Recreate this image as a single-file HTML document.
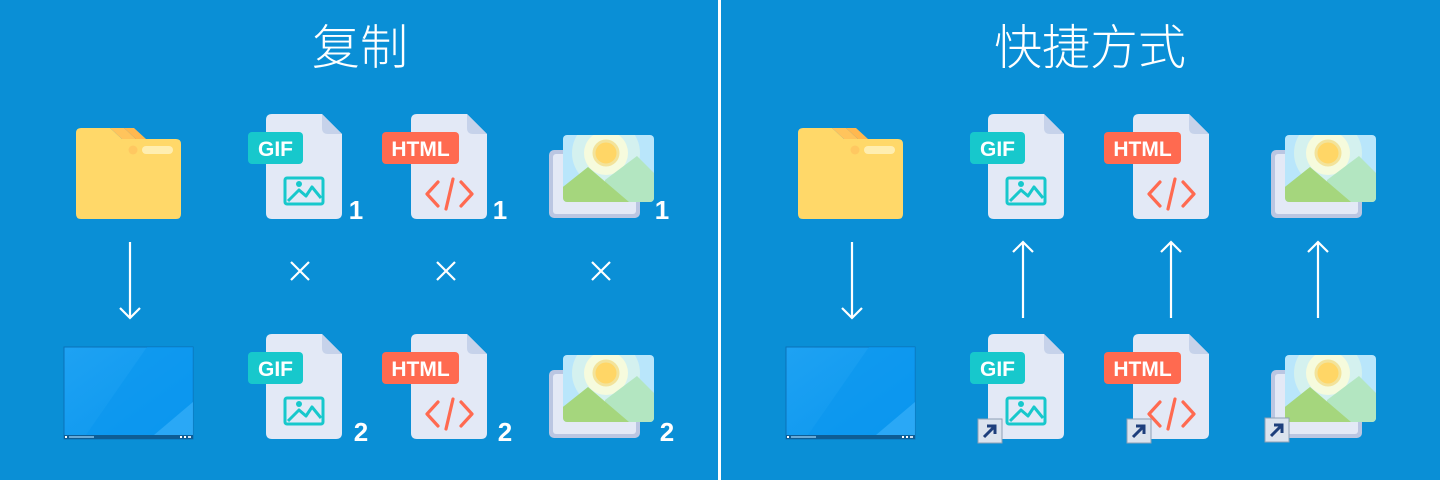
<!DOCTYPE html>
<html><head><meta charset="utf-8"><style>
html,body{margin:0;padding:0;background:#0a8fd6;}
svg{display:block}
.t{font-family:"Liberation Sans","Noto Sans CJK SC",sans-serif;fill:#fff}
.b{font-family:"Liberation Sans",sans-serif;font-weight:bold;fill:#fff}
</style></head><body>
<svg width="1440" height="480" viewBox="0 0 1440 480" xmlns="http://www.w3.org/2000/svg">
<defs>
<linearGradient id="dk" x1="0" y1="0" x2="1" y2="1"><stop offset="0" stop-color="#1ea2f3"/><stop offset="1" stop-color="#0a96ee"/></linearGradient>
<g id="doc"><path d="M0 6q0-6 6-6H56L76 20V99q0 6-6 6H6q-6 0-6-6Z" fill="#e3e9f6"/><path d="M56 0V14q0 6 6 6H76Z" fill="#c6d2ea"/></g>
<g id="img"><rect x="19" y="64" width="38" height="26" rx="2" fill="none" stroke="#17c8cc" stroke-width="3"/><path d="M22 87L33 76L40 82L46 73L55 84" fill="none" stroke="#17c8cc" stroke-width="3" stroke-linejoin="round"/><circle cx="33" cy="70" r="3" fill="#17c8cc"/></g>
<g id="code" fill="none" stroke="#ff6a50" stroke-width="3.2" stroke-linecap="round" stroke-linejoin="round"><path d="M27 68L16 80L27 92M50 68L61 80L50 92M42 65L35 95"/></g>
<clipPath id="fc"><rect x="14" y="-15" width="91" height="67" rx="4"/></clipPath>
<g id="photo"><rect x="0" y="0" width="91" height="68" rx="5" fill="#bac6e2"/><rect x="4" y="4" width="83" height="60" rx="3" fill="#e3e9f6"/>
<rect x="14" y="-15" width="91" height="67" rx="4" fill="#b9e6fb"/>
<g clip-path="url(#fc)"><circle cx="57" cy="3" r="34" fill="#d4f1ef"/><circle cx="57" cy="3" r="22" fill="#f6fbdd"/><circle cx="57" cy="3" r="12" fill="#ffd666" stroke="#f3e39a" stroke-width="3"/>
<path d="M56 30L88 6L110 28V60H56Z" fill="#b3e6c1"/><path d="M10 60V40L39 17L80 52V60Z" fill="#a5d67d"/></g></g>
<g id="folder"><path d="M0 6q0-5 5-5H34L46 12H100q5 0 5 5V87q0 5-5 5H5q-5 0-5-5Z" fill="#ffd869"/><path d="M34 1H48L60 12H46Z" fill="#ffc45c"/><path d="M48 1H58L70 12H60Z" fill="#ffb84f"/><circle cx="57" cy="23" r="4.5" fill="#ffc861"/><rect x="66" y="19" width="31" height="8" rx="4" fill="#ffeeb0"/></g>
<g id="desk"><rect x="0" y="0" width="129" height="92" fill="url(#dk)" stroke="#0b72b8"/><path d="M22 88L83 0H129V88Z" fill="#0a96ee" opacity="0.6"/><path d="M90 88L129 55V88Z" fill="#3fb4fa" opacity="0.6"/><rect x="0" y="88" width="129" height="4" fill="#0e5d95"/><rect x="1" y="89" width="2" height="2" fill="#fff"/><rect x="5" y="89" width="25" height="2" fill="#6aaad6"/><rect x="116" y="89" width="2" height="2" fill="#fff"/><rect x="120" y="89" width="2" height="2" fill="#fff"/><rect x="124" y="89" width="3" height="2" fill="#cde"/></g>
<g id="sc"><rect x="0" y="0" width="24" height="24" fill="#dbe3ee" stroke="#8fa0b5"/><path d="M6 18L17 7M9 7H17V15" fill="none" stroke="#1e3f7c" stroke-width="3"/></g>
<g id="down" stroke="#fff" stroke-width="2.2" fill="none"><path d="M0 0V76M-10 66L0 76L10 66"/></g>
<g id="up" stroke="#fff" stroke-width="2.2" fill="none"><path d="M0 76V0M-10 10L0 0L10 10"/></g>
<g id="x" stroke="#fff" stroke-width="2.2"><path d="M-9-9L9 9M9-9L-9 9"/></g>
</defs>
<rect x="718" y="0" width="3" height="480" fill="#fff"/>
<text class="t" x="360" y="64" font-size="48" font-weight="300" text-anchor="middle">复制</text>
<text class="t" x="1090" y="64" font-size="48" font-weight="300" text-anchor="middle">快捷方式</text>

<use href="#folder" x="76" y="127"/>
<use href="#down" x="130" y="242"/>
<use href="#desk" x="64" y="347"/>
<g transform="translate(266,114)"><use href="#doc"/><rect x="-18" y="18" width="55" height="32" rx="4" fill="#17c8cc"/><text class="b" x="9.5" y="42" font-size="21" text-anchor="middle">GIF</text><use href="#img"/></g>
<g transform="translate(411,114)"><use href="#doc"/><rect x="-29" y="18" width="77" height="32" rx="4" fill="#ff6a50"/><text class="b" x="9.5" y="42" font-size="21" text-anchor="middle">HTML</text><use href="#code"/></g>
<use href="#photo" x="549" y="150"/>
<text class="b" x="356" y="219" font-size="26" text-anchor="middle">1</text>
<text class="b" x="500" y="219" font-size="26" text-anchor="middle">1</text>
<text class="b" x="662" y="219" font-size="26" text-anchor="middle">1</text>
<use href="#x" x="300" y="271"/><use href="#x" x="446" y="271"/><use href="#x" x="601" y="271"/>
<g transform="translate(266,334)"><use href="#doc"/><rect x="-18" y="18" width="55" height="32" rx="4" fill="#17c8cc"/><text class="b" x="9.5" y="42" font-size="21" text-anchor="middle">GIF</text><use href="#img"/></g>
<g transform="translate(411,334)"><use href="#doc"/><rect x="-29" y="18" width="77" height="32" rx="4" fill="#ff6a50"/><text class="b" x="9.5" y="42" font-size="21" text-anchor="middle">HTML</text><use href="#code"/></g>
<use href="#photo" x="549" y="370"/>
<text class="b" x="361" y="441" font-size="26" text-anchor="middle">2</text>
<text class="b" x="505" y="441" font-size="26" text-anchor="middle">2</text>
<text class="b" x="667" y="441" font-size="26" text-anchor="middle">2</text>

<use href="#folder" x="798" y="127"/>
<use href="#down" x="852" y="242"/>
<use href="#desk" x="786" y="347"/>
<g transform="translate(988,114)"><use href="#doc"/><rect x="-18" y="18" width="55" height="32" rx="4" fill="#17c8cc"/><text class="b" x="9.5" y="42" font-size="21" text-anchor="middle">GIF</text><use href="#img"/></g>
<g transform="translate(1133,114)"><use href="#doc"/><rect x="-29" y="18" width="77" height="32" rx="4" fill="#ff6a50"/><text class="b" x="9.5" y="42" font-size="21" text-anchor="middle">HTML</text><use href="#code"/></g>
<use href="#photo" x="1271" y="150"/>
<use href="#up" x="1023" y="242"/><use href="#up" x="1171" y="242"/><use href="#up" x="1318" y="242"/>
<g transform="translate(988,334)"><use href="#doc"/><rect x="-18" y="18" width="55" height="32" rx="4" fill="#17c8cc"/><text class="b" x="9.5" y="42" font-size="21" text-anchor="middle">GIF</text><use href="#img"/></g>
<g transform="translate(1133,334)"><use href="#doc"/><rect x="-29" y="18" width="77" height="32" rx="4" fill="#ff6a50"/><text class="b" x="9.5" y="42" font-size="21" text-anchor="middle">HTML</text><use href="#code"/></g>
<use href="#photo" x="1271" y="370"/>
<use href="#sc" x="978" y="419"/>
<use href="#sc" x="1127" y="419"/>
<use href="#sc" x="1265" y="418"/>
</svg>
</body></html>
